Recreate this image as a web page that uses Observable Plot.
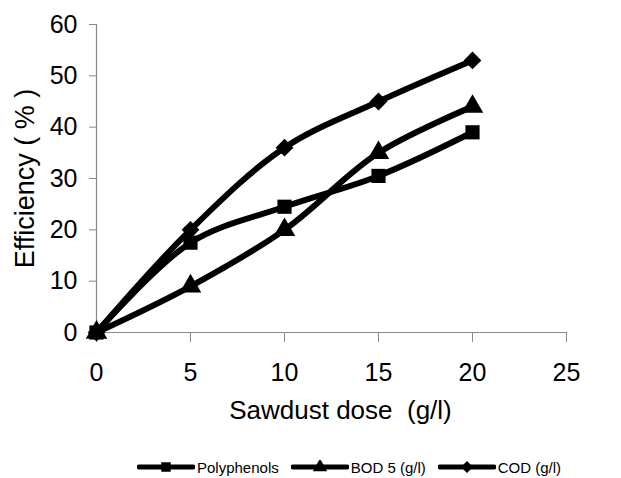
<!DOCTYPE html>
<html>
<head>
<meta charset="utf-8">
<script src="https://cdn.jsdelivr.net/npm/d3@7"></script>
<script src="https://cdn.jsdelivr.net/npm/@observablehq/plot@0.6"></script>
<style>
  html, body { margin: 0; padding: 0; background: #fff; }
  #chart { width: 621px; }
  #legend { display: flex; justify-content: flex-start; align-items: center; font-family: "Liberation Sans", Arial, sans-serif; font-size: 15px; color: #000; padding-left: 137px; height: 30px; margin-top: 12px; }
  .item { display: flex; align-items: center; margin-right: 12px; }
  .item svg { margin-right: 2px; }
</style>
</head>
<body>
<div id="chart"></div>
<div id="legend"></div>
<script>
const doses = [0, 5, 10, 15, 20];
const seriesNames = ["Polyphenols", "BOD 5 (g/l)", "COD (g/l)"];
const polyphenols = [0, 17.5, 24.5, 30.5, 39];
const bod5 = [0, 9, 20, 35, 44];
const cod = [0, 20, 36, 45, 53];
const symbolsBySeries = ["square", "triangle", "diamond2"];
const xTicks = [0, 5, 10, 15, 20, 25];
const yTicks = [0, 10, 20, 30, 40, 50, 60];
const xLabel = "Sawdust dose  (g/l)";
const yLabel = "Efficiency ( % )";

const seriesValues = [polyphenols, bod5, cod];
const data = [];
seriesNames.forEach((name, i) => {
  doses.forEach((d, j) => data.push({series: name, dose: d, value: seriesValues[i][j]}));
});

const font = "Liberation Sans, Arial, sans-serif";
const chart = Plot.plot({
  width: 621,
  height: 440,
  marginLeft: 96,
  marginRight: 55,
  marginTop: 24,
  marginBottom: 108,
  style: {fontFamily: font, fontSize: "25px", color: "#000", background: "#fff"},
  x: {domain: [0, 25], ticks: xTicks, label: null},
  y: {domain: [0, 60], ticks: yTicks, label: null},
  symbol: {domain: seriesNames, range: symbolsBySeries},
  marks: [
    Plot.axisX({ticks: xTicks, tickSize: 10, tickPadding: 21, stroke: "#888", fill: "#000", fontSize: 25, label: null}),
    Plot.axisY({ticks: yTicks, tickSize: 7, tickPadding: 12, stroke: "#888", fill: "#000", fontSize: 25, label: null}),
    Plot.ruleY([0], {stroke: "#888", strokeWidth: 1.2}),
    Plot.ruleX([0], {stroke: "#888", strokeWidth: 1.2}),
    Plot.line(data, {x: "dose", y: "value", z: "series", stroke: "#000", strokeWidth: 6, curve: "catmull-rom"}),
    Plot.dot(data, {x: "dose", y: "value", symbol: "series", fill: "#000", stroke: "none", r: 8}),
    Plot.text([xLabel], {frameAnchor: "bottom", dx: 9, dy: 86, fontSize: 26, textAnchor: "middle", text: d => d, fill: "#000"}),
    Plot.text([yLabel], {frameAnchor: "left", dx: -71, rotate: -90, fontSize: 27, textAnchor: "middle", text: d => d, fill: "#000"})
  ]
});
document.getElementById("chart").appendChild(chart);

const legend = document.getElementById("legend");
const types = {square: d3.symbolSquare, triangle: d3.symbolTriangle, diamond2: d3.symbolDiamond2};
seriesNames.forEach((name, i) => {
  const item = document.createElement("div");
  item.className = "item";
  const path = d3.symbol(types[symbolsBySeries[i]], 90)();
  item.innerHTML = `<svg width="58" height="14"><line x1="2" x2="56" y1="7" y2="7" stroke="#000" stroke-width="5" stroke-linecap="round"/><path d="${path}" transform="translate(29,7)" fill="#000"/></svg><span>${name}</span>`;
  legend.appendChild(item);
});
</script>
</body>
</html>
